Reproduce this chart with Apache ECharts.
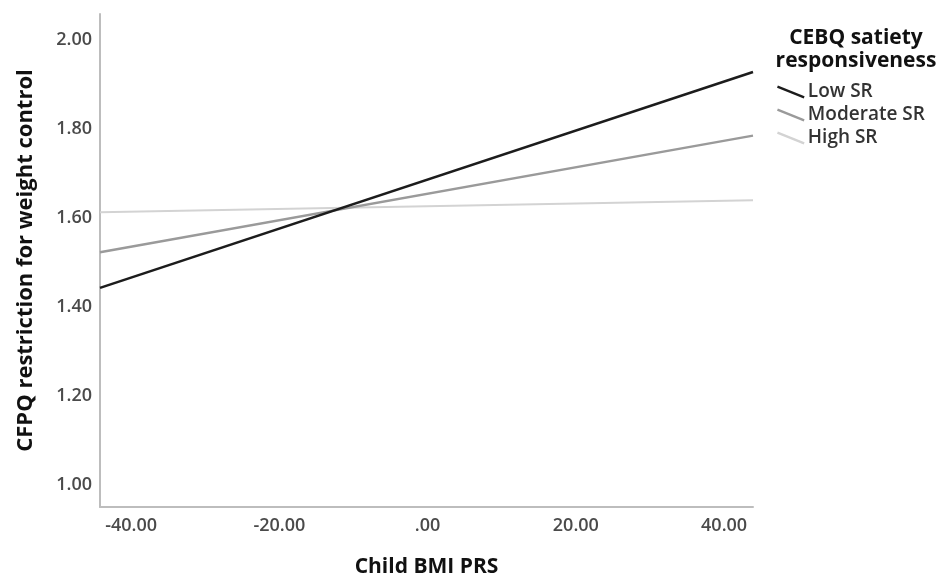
<!DOCTYPE html>
<html>
<head>
<meta charset="utf-8">
<script src="https://cdn.jsdelivr.net/npm/echarts@6/dist/echarts.min.js"></script>
<style>html,body{margin:0;padding:0;background:#fff}#c{width:945px;height:584px}</style>
</head>
<body>
<div id="c"></div>
<script>
// Data
const xEnds = [-44.2, 43.9];            // x extent of the fitted lines (Child BMI PRS)
const lowSR = [1.443, 1.928];
const moderateSR = [1.523, 1.785];
const highSR = [1.613, 1.640];
const seriesNames = ['Low SR', 'Moderate SR', 'High SR'];
const xTicks = [-40, -20, 0, 20, 40];
const yTicks = [1.0, 1.2, 1.4, 1.6, 1.8, 2.0];

const FONT = '"Open Sans", "DejaVu Sans", sans-serif';
const colors = ['#1c1c1c', '#9a9a9a', '#d3d3d3'];
const widths = [2.6, 2.4, 2];
const values = [lowSR, moderateSR, highSR];
const icon = 'path://M0,0 L30,12 L29,14.6 L-1,2.6 Z';

const chart = echarts.init(document.getElementById('c'));
chart.setOption({
  animation: false,
  backgroundColor: '#fff',
  grid: { left: 100, right: 192, top: 14, bottom: 77, containLabel: false },
  title: {
    text: 'CEBQ satiety\nresponsiveness',
    left: 851, top: 22, textAlign: 'center',
    textStyle: { fontFamily: FONT, fontWeight: 'bold', fontSize: 21, color: '#111', lineHeight: 23 }
  },
  legend: {
    orient: 'vertical', left: 772, top: 77, itemGap: 3,
    itemWidth: 30, itemHeight: 13,
    data: seriesNames.map(n => ({ name: n, icon: icon })),
    textStyle: { fontFamily: FONT, fontSize: 19, fontWeight: 600, color: '#333', lineHeight: 20, padding: [0, 0, 0, -3] }
  },
  xAxis: {
    type: 'value', min: -44.2, max: 43.9,
    name: 'Child BMI PRS', nameLocation: 'middle', nameGap: 50,
    nameTextStyle: { fontFamily: FONT, fontWeight: 'bold', fontSize: 21, color: '#111' },
    axisLine: { show: true, onZero: false, lineStyle: { color: '#bdbdbd', width: 2 } },
    axisTick: { show: false },
    splitLine: { show: false },
    axisLabel: {
      customValues: xTicks, margin: 10,
      fontFamily: FONT, fontSize: 18, fontWeight: 600, color: '#4a4a4a',
      formatter: v => v === 0 ? '.00' : v.toFixed(2)
    }
  },
  yAxis: {
    type: 'value', min: 0.951, max: 2.058,
    name: 'CFPQ restriction for weight control', nameLocation: 'middle', nameGap: 63,
    nameTextStyle: { fontFamily: FONT, fontWeight: 'bold', fontSize: 22, color: '#111' },
    axisLine: { show: true, onZero: false, lineStyle: { color: '#bdbdbd', width: 2 } },
    axisTick: { show: false },
    splitLine: { show: false },
    axisLabel: {
      customValues: yTicks, margin: 8,
      fontFamily: FONT, fontSize: 18, fontWeight: 600, color: '#4a4a4a',
      formatter: v => v.toFixed(2)
    }
  },
  series: seriesNames.map((n, i) => ({
    name: n, type: 'line', symbol: 'none', silent: true,
    data: xEnds.map((x, j) => [x, values[i][j]]),
    lineStyle: { color: colors[i], width: widths[i] },
    itemStyle: { color: colors[i] },
    z: 3 - i
  }))
});
</script>
</body>
</html>
